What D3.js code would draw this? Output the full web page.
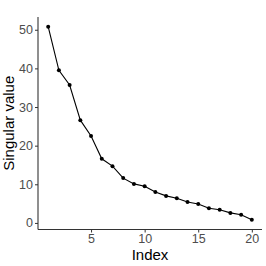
<!DOCTYPE html>
<html>
<head>
<meta charset="utf-8">
<script src="https://cdn.jsdelivr.net/npm/d3@7"></script>
<style>
  body { margin: 0; background: #fff; }
  svg text { font-family: "Liberation Sans", Arial, sans-serif; }
</style>
</head>
<body>
<div id="chart"></div>
<script>
// singular values
const indices = d3.range(1, 21);
const singularValues = [50.8, 39.5, 35.7, 26.6, 22.5, 16.6, 14.7, 11.6, 10.1, 9.5,
                        8.0, 7.0, 6.4, 5.4, 4.9, 3.8, 3.4, 2.6, 2.1, 0.8];
const xTicks = [5, 10, 15, 20];
const yTicks = [0, 10, 20, 30, 40, 50];

const width = 266, height = 266;
const margin = { top: 17, right: 4, bottom: 36.5, left: 38 };

const svg = d3.select("#chart")
  .append("svg")
  .attr("width", width)
  .attr("height", height);

const data = indices.map((d, i) => ({ index: d, value: singularValues[i] }));

// ggplot style 5% expansion
const xExt = d3.extent(indices);
const xPad = (xExt[1] - xExt[0]) * 0.05;
const x = d3.scaleLinear()
  .domain([xExt[0] - xPad, xExt[1] + xPad])
  .range([margin.left, width - margin.right]);

const yExt = d3.extent(singularValues);
const yPad = (yExt[1] - yExt[0]) * 0.05;
const y = d3.scaleLinear()
  .domain([yExt[0] - yPad, yExt[1] + yPad])
  .range([height - margin.bottom, margin.top]);

// axes
const xAxis = svg.append("g")
  .attr("transform", `translate(0,${height - margin.bottom})`)
  .call(d3.axisBottom(x).tickValues(xTicks).tickSize(3).tickPadding(1.5));

const yAxis = svg.append("g")
  .attr("transform", `translate(${margin.left},0)`)
  .call(d3.axisLeft(y).tickValues(yTicks).tickSize(3).tickPadding(2));

[xAxis, yAxis].forEach(g => {
  g.select(".domain").attr("stroke", "#333").attr("stroke-width", 1.1);
  g.selectAll(".tick line").attr("stroke", "#333");
  g.selectAll(".tick text")
    .attr("fill", "#4d4d4d")
    .attr("font-size", "12.5px");
});

// trim the domain paths to straight lines (no end caps)
xAxis.select(".domain").attr("d", `M${x.range()[0]},0H${x.range()[1]}`);
yAxis.select(".domain").attr("d", `M0,${y.range()[0]}V${y.range()[1]}`);

// line + points
svg.append("path")
  .datum(data)
  .attr("fill", "none")
  .attr("stroke", "#000")
  .attr("stroke-width", 1.1)
  .attr("d", d3.line().x(d => x(d.index)).y(d => y(d.value)));

svg.selectAll(".pt")
  .data(data)
  .join("circle")
  .attr("class", "pt")
  .attr("cx", d => x(d.index))
  .attr("cy", d => y(d.value))
  .attr("r", 2)
  .attr("fill", "#000");

// axis titles
svg.append("text")
  .attr("x", (x.range()[0] + x.range()[1]) / 2)
  .attr("y", 260)
  .attr("text-anchor", "middle")
  .attr("font-size", "15px")
  .attr("fill", "#000")
  .text("Index");

svg.append("text")
  .attr("transform", `translate(14,${(y.range()[0] + y.range()[1]) / 2}) rotate(-90)`)
  .attr("text-anchor", "middle")
  .attr("font-size", "15px")
  .attr("fill", "#000")
  .text("Singular value");
</script>
</body>
</html>
